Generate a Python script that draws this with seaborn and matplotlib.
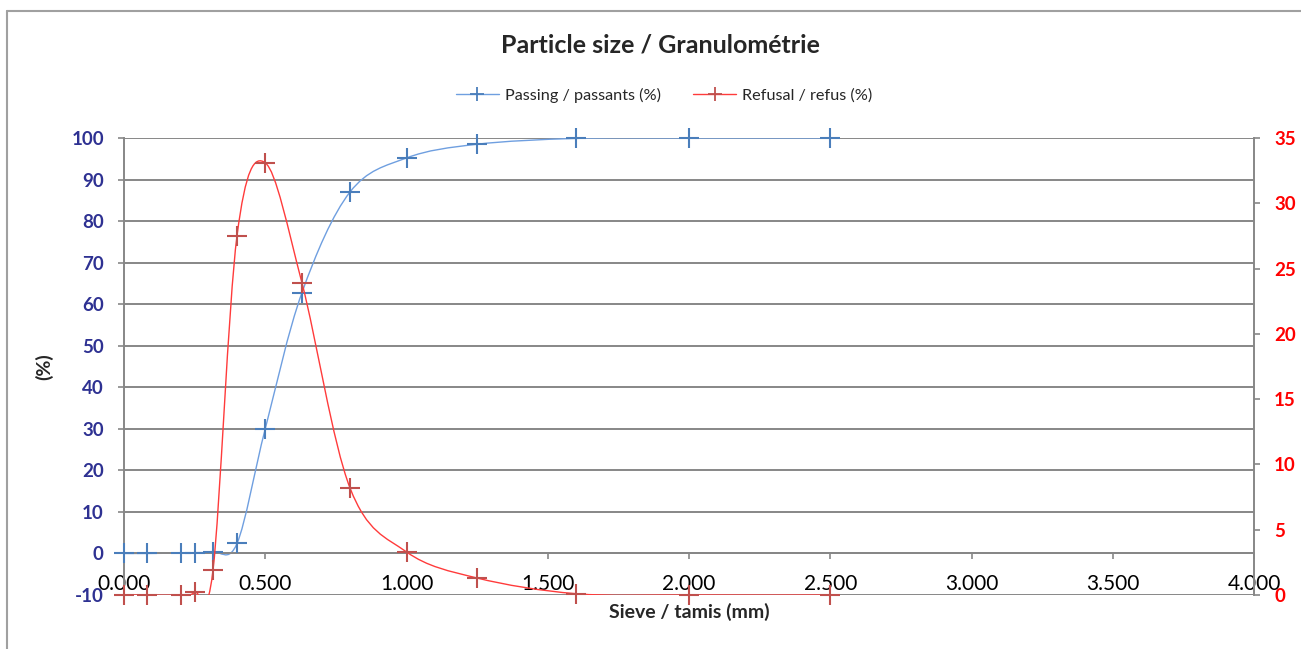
import numpy as np
import pandas as pd
import seaborn as sns
from matplotlib import pyplot as plt
from matplotlib.path import Path
from matplotlib.patches import PathPatch
from matplotlib.lines import Line2D

# sieve openings (mm) and results
sieve = [0, 0.08, 0.2, 0.25, 0.315, 0.4, 0.5, 0.63, 0.8, 1.0, 1.25, 1.6, 2.0, 2.5]
passing = [0, 0, 0.1, 0.2, 0.4, 2.4, 30.0, 62.8, 87.0, 95.2, 98.5, 99.9, 100, 100]
refusal = [0, 0, 0, 0.2, 1.9, 27.5, 33.1, 23.9, 8.2, 3.3, 1.3, 0.1, 0, 0]

x_ticks = [0, 0.5, 1.0, 1.5, 2.0, 2.5, 3.0, 3.5, 4.0]
left_ticks = list(range(-10, 101, 10))
right_ticks = list(range(0, 36, 5))

df = pd.DataFrame({'sieve': sieve, 'passing': passing, 'refusal': refusal})

BLUE_LINE = '#6f9fe0'
BLUE_MARK = '#4a7ebb'
RED_LINE = '#ff3b3b'
RED_MARK = '#c0504d'
GRID = '#878787'


def smooth_path(x, y):
    # excel-like smoothed line: cubic bezier through the points
    p = np.column_stack([x, y]).astype(float)
    ext = np.vstack([p[0], p, p[-1]])
    verts = [p[0]]
    codes = [Path.MOVETO]
    for i in range(len(p) - 1):
        c1 = ext[i + 1] + (ext[i + 2] - ext[i]) / 6
        c2 = ext[i + 2] - (ext[i + 3] - ext[i + 1]) / 6
        verts += [c1, c2, p[i + 1]]
        codes += [Path.CURVE4] * 3
    return Path(verts, codes)


sns.set_style('white')
plt.rcParams['font.family'] = ['Lato', 'DejaVu Sans']

fig = plt.figure(figsize=(13.01, 6.49), dpi=100)
ax = fig.add_axes([124 / 1301, 54 / 649, 1130 / 1301, 457 / 649])

ax.set_xlim(0, 4)
ax.set_ylim(-10, 100)
ax.set_xticks(x_ticks, labels=[f'{v:.3f}' for v in x_ticks])
ax.set_yticks(left_ticks, labels=[str(v) for v in left_ticks], fontweight='bold')
ax.grid(axis='y', color=GRID, lw=1.4)
ax.grid(axis='x', visible=False)
ax.set_axisbelow(True)

for s in ['top', 'right']:
    ax.spines[s].set_visible(False)
ax.spines['bottom'].set_position(('data', 0))
ax.spines['bottom'].set_color(GRID)
ax.spines['bottom'].set_linewidth(1.4)
ax.spines['left'].set_color(GRID)
ax.spines['left'].set_linewidth(1.4)

ax.tick_params(axis='x', bottom=True, direction='out', length=4, width=1.2,
               color=GRID, pad=11, labelsize=15, labelcolor='black')
ax.tick_params(axis='y', left=True, direction='out', length=4.5, width=1.2,
               color=GRID, pad=10, labelsize=13.5, labelcolor='#2e3192')

ax.add_patch(PathPatch(smooth_path(df['sieve'], df['passing']), facecolor='none',
                       edgecolor=BLUE_LINE, lw=1.0, zorder=2))
sns.scatterplot(data=df, x='sieve', y='passing', marker='+', s=190, color=BLUE_MARK,
                linewidth=1.5, ax=ax, zorder=3, clip_on=False)

ax2 = ax.twinx()
ax2.set_ylim(0, 35)
ax2.set_yticks(right_ticks, labels=[str(v) for v in right_ticks], fontweight='bold')
ax2.grid(False)
for s in ['top', 'left', 'bottom']:
    ax2.spines[s].set_visible(False)
ax2.spines['right'].set_color(GRID)
ax2.spines['right'].set_linewidth(1.4)
ax2.tick_params(axis='y', right=True, direction='out', length=4.5, width=1.2,
                color=GRID, pad=10, labelsize=13.5, labelcolor='#ff0000')

ax2.add_patch(PathPatch(smooth_path(df['sieve'], df['refusal']), facecolor='none',
                        edgecolor=RED_LINE, lw=1.0, zorder=2))
sns.scatterplot(data=df, x='sieve', y='refusal', marker='+', s=190, color=RED_MARK,
                linewidth=1.5, ax=ax2, zorder=3, clip_on=False)

ax.set_xlabel('Sieve / tamis (mm)', fontsize=14, fontweight='bold')
ax.xaxis.set_label_coords(0.5, -0.018)
ax.set_ylabel('(%)', fontsize=14, fontweight='bold')
ax.yaxis.set_label_coords(-0.063, 0.5)
ax2.set_ylabel('')

fig.text(660 / 1301, 1 - 45 / 649, 'Particle size / Granulométrie', ha='center', va='center',
         fontsize=18, fontweight='bold')

handles = [
    Line2D([], [], color=BLUE_LINE, lw=1, marker='+', markersize=10, markeredgecolor=BLUE_MARK,
           markeredgewidth=1.3),
    Line2D([], [], color=RED_LINE, lw=1, marker='+', markersize=10, markeredgecolor=RED_MARK,
           markeredgewidth=1.3),
]
fig.legend(handles, ['Passing / passants (%)', 'Refusal / refus (%)'], loc='center',
           bbox_to_anchor=(664 / 1301, 1 - 95 / 649), ncol=2, frameon=False, fontsize=11.7,
           handlelength=2.65, handletextpad=0.35, columnspacing=2.0)

# chart frame
fig.add_artist(Line2D([7 / 1301, 7 / 1301], [0, 1 - 11 / 649], color='#a0a0a0', lw=1.5,
                      transform=fig.transFigure))
fig.add_artist(Line2D([7 / 1301, 1], [1 - 11 / 649, 1 - 11 / 649], color='#a0a0a0', lw=1.5,
                      transform=fig.transFigure))

fig.savefig('out.png', dpi=100)
